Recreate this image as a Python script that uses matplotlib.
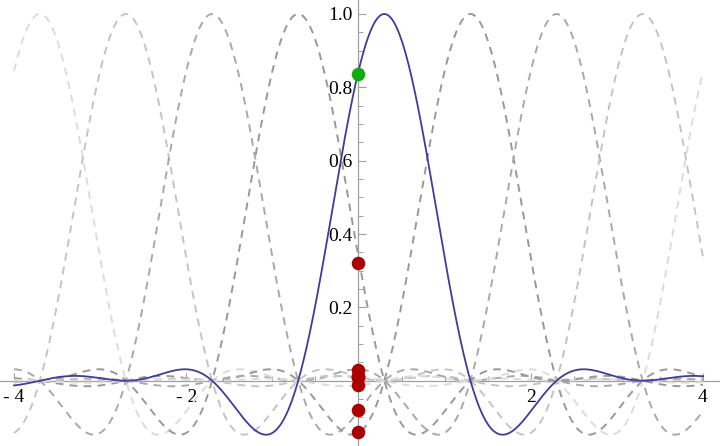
import numpy as np
import matplotlib
matplotlib.use("Agg")
import matplotlib.pyplot as plt
from matplotlib.ticker import FixedLocator, MultipleLocator

# ---- data -------------------------------------------------------------
# centres of the shifted interpolation kernels (blue one at 0.3)
kernel_centers = [-3.7, -2.7, -1.7, -0.7, 0.3, 1.3, 2.3, 3.3, 4.3]
main_center = 0.3
kernel_a = 3                       # sinc(t) * sinc(t / a)
# value of each kernel at x = 0 (dots on the y axis)
dot_values = [0.012, 0.010, -0.080, 0.320, 0.837, -0.140, 0.030, 0.009, -0.013]
# gray level for dashed kernels by distance (in steps) from main centre
gray_by_distance = {1: "#999999", 2: "#a9a9a9", 3: "#c4c4c4", 4: "#dcdcdc"}

x_ticks = [-4, -2, 2, 4]
x_tick_labels = ["- 4", "- 2", "2", "4"]
y_ticks = [0.2, 0.4, 0.6, 0.8, 1.0]
y_tick_labels = ["0.2", "0.4", "0.6", "0.8", "1.0"]


def kernel(t):
    return np.sinc(t) * np.sinc(t / kernel_a)


# ---- figure -----------------------------------------------------------
plt.rcParams["font.family"] = "serif"
plt.rcParams["font.serif"] = ["Liberation Serif", "DejaVu Serif"]
fig = plt.figure(figsize=(7.2, 4.46), dpi=100)
ax = fig.add_axes([0, 0, 1, 1])

px_per_unit = (703 - 14) / 8.0
x0_px = 14 + 4 * px_per_unit
ax.set_xlim(-x0_px / px_per_unit, (720 - x0_px) / px_per_unit)
y0_px, y_unit = 380.7, 366.7
ax.set_ylim(-(446 - y0_px) / y_unit, y0_px / y_unit)

xs = np.linspace(-4, 4, 1600)
for c in kernel_centers:
    if c == main_center:
        continue
    d = int(round(abs(c - main_center)))
    ax.plot(xs, kernel(xs - c), color=gray_by_distance[d], lw=1.4,
            dashes=(4.0, 3.2), zorder=2)
ax.plot(xs, kernel(xs - main_center), color="#3d3d9c", lw=1.3, zorder=3)

for c, v in zip(kernel_centers, dot_values):
    is_main = c == main_center
    ax.scatter([0], [v], s=95, color="#11aa11" if is_main else "#aa0000",
               zorder=5 if is_main else 4, linewidths=0)

# ---- axes styling (Mathematica-like) ----------------------------------
axis_col = "#a0a0a0"
for s in ["top", "right"]:
    ax.spines[s].set_visible(False)
ax.spines["left"].set_position(("data", 0))
ax.spines["bottom"].set_position(("data", 0))
for s in ["left", "bottom"]:
    ax.spines[s].set_color(axis_col)
    ax.spines[s].set_linewidth(0.9)
    ax.spines[s].set_zorder(1)

ax.xaxis.set_major_locator(FixedLocator(x_ticks))
ax.set_xticklabels(x_tick_labels)
ax.xaxis.set_minor_locator(MultipleLocator(0.5))
ax.yaxis.set_major_locator(FixedLocator(y_ticks))
ax.set_yticklabels(y_tick_labels)
ax.yaxis.set_minor_locator(MultipleLocator(0.05))

ax.tick_params(axis="both", which="both", direction="in", color=axis_col,
               labelsize=14, labelcolor="black")
ax.tick_params(axis="both", which="major", length=6, width=0.8)
ax.tick_params(axis="both", which="minor", length=3.5, width=0.7)
ax.tick_params(axis="x", which="major", pad=6)
ax.tick_params(axis="y", which="major", pad=4)

ax.set_facecolor("white")
fig.patch.set_facecolor("white")
fig.savefig("out.png", dpi=100)
